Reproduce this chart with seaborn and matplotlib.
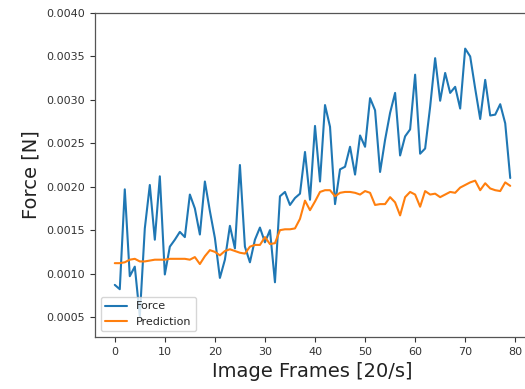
import numpy as np
import pandas as pd
import matplotlib
matplotlib.use("Agg")
import matplotlib.pyplot as plt
import seaborn as sns

# values (frames 0..79)
force = [
    0.00087, 0.00082, 0.00197, 0.00097, 0.00108, 0.00051, 0.00152, 0.00202, 0.00139, 0.00212,
    0.00099, 0.00131, 0.00139, 0.00148, 0.00142, 0.00191, 0.00175, 0.00145, 0.00206, 0.00172,
    0.00141, 0.00095, 0.00116, 0.00155, 0.00129, 0.00225, 0.00131, 0.00113, 0.00139, 0.00153,
    0.00136, 0.00150, 0.00090, 0.00189, 0.00194, 0.00179, 0.00187, 0.00192, 0.00240, 0.00185,
    0.00270, 0.00206, 0.00294, 0.00269, 0.00180, 0.00220, 0.00223, 0.00246, 0.00214, 0.00259,
    0.00246, 0.00302, 0.00288, 0.00217, 0.00254, 0.00285, 0.00308, 0.00236, 0.00258, 0.00266,
    0.00329, 0.00238, 0.00244, 0.00292, 0.00348, 0.00299, 0.00331, 0.00308, 0.00315, 0.00290,
    0.00359, 0.00350, 0.00313, 0.00278, 0.00323, 0.00282, 0.00283, 0.00295, 0.00273, 0.00210,
]
prediction = [
    0.00112, 0.00112, 0.00113, 0.00116, 0.00117, 0.00114, 0.00114, 0.00115, 0.00116, 0.00116,
    0.00116, 0.00117, 0.00117, 0.00117, 0.00117, 0.00116, 0.00119, 0.00111, 0.00120, 0.00127,
    0.00125, 0.00121, 0.00126, 0.00128, 0.00126, 0.00124, 0.00123, 0.00131, 0.00133, 0.00133,
    0.00142, 0.00134, 0.00135, 0.00150, 0.00151, 0.00151, 0.00152, 0.00163, 0.00184, 0.00173,
    0.00183, 0.00194, 0.00196, 0.00196, 0.00189, 0.00193, 0.00194, 0.00194, 0.00193, 0.00191,
    0.00195, 0.00193, 0.00179, 0.00180, 0.00180, 0.00188, 0.00182, 0.00167, 0.00188, 0.00194,
    0.00191, 0.00177, 0.00195, 0.00191, 0.00192, 0.00188, 0.00191, 0.00194, 0.00193, 0.00199,
    0.00202, 0.00205, 0.00207, 0.00196, 0.00204, 0.00198, 0.00196, 0.00195, 0.00205, 0.00201,
]
frames = np.arange(len(force))

df = pd.DataFrame({
    "frame": np.concatenate([frames, frames]),
    "value": force + prediction,
    "series": ["Force"] * len(force) + ["Prediction"] * len(prediction),
})

sns.set_style("white")
plt.rcParams["font.family"] = ["DejaVu Sans"]

fig = plt.figure(figsize=(5.25, 3.89), dpi=100)
# axes runs past the right edge, like the cropped original
ax = fig.add_axes([95 / 525, 52 / 389, 435 / 525, 324 / 389])

sns.lineplot(data=df, x="frame", y="value", hue="series",
             palette=["#1f77b4", "#ff7f0e"], linewidth=1.5, ax=ax)

ax.set_xlim(-3.95, 82.95)
ax.set_ylim(0.00027, 0.0040)
ax.set_yticks([0.0005, 0.0010, 0.0015, 0.0020, 0.0025, 0.0030, 0.0035, 0.0040])
ax.set_yticklabels([f"{t:.4f}" for t in ax.get_yticks()])
ax.set_xticks(range(0, 81, 10))
ax.tick_params(axis="both", labelsize=8, length=3.5, width=0.8, colors="#333333", left=True, bottom=True)
for s in ax.spines.values():
    s.set_color("#555555")
    s.set_linewidth(0.9)
ax.spines["right"].set_visible(False)

ax.set_xlabel("Image Frames [20/s]", fontsize=14, color="#222222")
ax.set_ylabel("Force [N]", fontsize=14, color="#222222")
ax.legend(loc="lower left", fontsize=8, title=None, frameon=True)

fig.savefig("out.png", dpi=100)
